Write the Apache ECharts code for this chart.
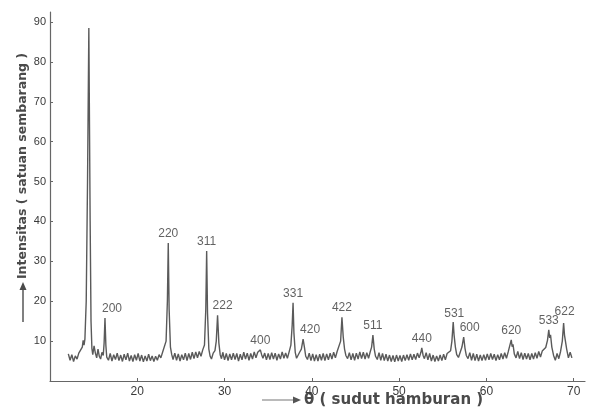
<!DOCTYPE html>
<html>
<head>
<meta charset="utf-8">
<script src="https://cdn.jsdelivr.net/npm/echarts@6/dist/echarts.min.js"></script>
<style>
html,body{margin:0;padding:0;background:#fff;}
#chart{width:589px;height:410px;}
</style>
</head>
<body>
<div id="chart"></div>
<script>
// scattering angle θ (degrees)
const theta = [
12.1,12.3,12.5,12.7,12.9,13.1,13.3,13.5,13.7,13.8,13.9,14.0,14.15,14.3,14.45,14.6,14.7,14.8,14.9,15.05,
15.2,15.35,15.5,15.65,15.8,15.95,16.1,16.2,16.3,16.4,16.5,16.7,16.9,17.1,17.3,17.5,17.7,17.9,18.1,18.3,
18.5,18.7,18.9,19.1,19.3,19.5,19.7,19.9,20.1,20.3,20.5,20.7,20.9,21.1,21.3,21.5,21.7,21.9,22.1,22.3,
22.5,22.7,22.9,23.1,23.3,23.45,23.55,23.65,23.8,23.95,24.1,24.3,24.5,24.7,24.9,25.1,25.3,25.5,25.7,25.9,
26.1,26.3,26.5,26.7,26.9,27.1,27.3,27.5,27.7,27.85,27.95,28.05,28.2,28.35,28.5,28.7,28.9,29.05,29.2,29.35,
29.5,29.65,29.8,30.0,30.2,30.4,30.6,30.8,31.0,31.2,31.4,31.6,31.8,32.0,32.2,32.4,32.6,32.8,33.0,33.2,
33.4,33.6,33.8,34.0,34.1,34.25,34.4,34.6,34.8,35.0,35.2,35.4,35.6,35.8,36.0,36.2,36.4,36.6,36.8,37.0,
37.2,37.4,37.6,37.75,37.85,37.95,38.1,38.25,38.4,38.6,38.8,39.0,39.15,39.3,39.5,39.7,39.9,40.1,40.3,40.5,
40.7,40.9,41.1,41.3,41.5,41.7,41.9,42.1,42.3,42.5,42.7,42.9,43.1,43.3,43.45,43.6,43.75,43.9,44.1,44.3,
44.5,44.7,44.9,45.1,45.3,45.5,45.7,45.9,46.1,46.3,46.5,46.7,46.85,47.0,47.15,47.3,47.5,47.7,47.9,48.1,
48.3,48.5,48.7,48.9,49.1,49.3,49.5,49.7,49.9,50.1,50.3,50.5,50.7,50.9,51.1,51.3,51.5,51.7,51.9,52.1,
52.3,52.5,52.6,52.75,52.9,53.1,53.3,53.5,53.7,53.9,54.1,54.3,54.5,54.7,54.9,55.1,55.3,55.5,55.7,55.9,
56.05,56.2,56.3,56.45,56.6,56.8,57.0,57.2,57.4,57.55,57.7,57.9,58.1,58.3,58.5,58.7,58.9,59.1,59.3,59.5,
59.7,59.9,60.1,60.3,60.5,60.7,60.9,61.1,61.3,61.5,61.7,61.9,62.1,62.3,62.5,62.7,62.85,62.95,63.05,63.2,
63.4,63.6,63.8,64.0,64.2,64.4,64.6,64.8,65.0,65.2,65.4,65.6,65.8,66.0,66.2,66.4,66.6,66.8,67.0,67.15,
67.25,67.35,67.5,67.7,67.9,68.1,68.3,68.5,68.7,68.85,68.95,69.05,69.2,69.4,69.6,69.8
];
// intensity (arbitrary units)
const intensity = [
6.8,5.2,6.6,4.9,6.3,5.5,7.0,7.4,8.5,10.2,9.0,10.5,20,50,88.5,40,15,8.2,6.6,8.8,
7.0,5.8,8.0,6.2,5.5,7.2,6.4,9.5,15.8,9.0,6.0,5.2,6.9,5.0,6.6,5.4,7.0,5.1,6.5,4.9,
6.7,5.3,7.0,5.0,6.4,4.9,6.6,5.2,6.9,5.0,6.5,4.8,6.3,5.0,6.7,5.1,6.3,4.9,6.2,5.2,
6.6,5.8,7.2,7.6,10,20,34.6,18,8.5,6.6,5.4,7.0,5.2,6.8,5.0,6.6,5.3,7.0,5.1,6.9,
5.4,7.2,5.6,7.3,5.8,7.4,6.2,7.8,9.0,18,32.6,17,8.0,6.2,5.5,7.0,7.6,10,16.5,9.5,
6.6,5.6,7.2,5.3,6.9,5.1,6.8,5.3,7.0,5.4,6.9,5.0,6.7,5.3,7.2,5.5,7.0,5.2,6.9,5.5,
7.3,5.8,7.2,7.5,7.8,6.6,5.7,7.0,5.3,6.9,5.4,7.1,5.5,7.0,5.2,6.8,5.5,7.3,5.7,7.0,
5.7,7.3,9.0,14,19.6,12,7.2,5.7,5.6,7.2,8.0,10.5,8.5,6.2,5.4,7.0,5.1,6.8,5.0,6.6,
5.0,6.7,5.2,6.9,5.1,6.8,5.3,7.0,5.5,7.2,5.8,7.4,7.8,10,16,11,8.0,6.4,5.6,7.1,
5.3,6.9,5.2,7.0,5.5,7.3,5.6,7.2,5.5,7.1,5.7,7.4,8.5,11.5,8.0,6.2,5.4,7.1,5.2,6.9,
5.1,6.7,5.0,6.5,4.9,6.4,4.8,6.5,5.0,6.4,4.9,6.5,5.1,6.6,5.2,6.8,5.3,6.7,5.4,7.0,
5.8,7.2,8.3,6.4,5.6,7.1,5.3,6.9,5.0,6.5,4.9,6.3,5.0,6.5,5.1,6.7,5.3,6.9,6.4,7.6,
10,14.8,11.5,8.5,6.6,5.9,7.2,8.5,11,8.2,6.4,5.6,7.1,5.2,6.9,5.1,6.7,5.0,6.5,5.1,
6.6,5.2,6.8,5.3,6.9,5.4,6.7,5.1,6.6,5.3,6.9,5.5,7.1,5.7,7.3,7.5,10.3,8.6,9.2,6.8,
5.8,7.4,5.6,7.1,5.4,7.0,5.5,6.9,5.3,6.9,5.5,7.1,5.7,7.4,6.0,7.5,7.4,8.4,10.2,12.8,
10.8,11.6,8.5,6.4,5.2,6.9,5.6,7.4,10.0,14.5,11.5,12.0,8.0,5.8,7.2,5.8
];
// Miller index labels of the reflections
const peakHkl = ['200','220','311','222','400','331','420','422','511','440','531','600','620','533','622'];
const peakTheta = [16.3,23.55,27.95,29.2,34.1,37.85,39.0,43.45,47.0,52.6,56.2,57.4,62.85,67.15,68.85];
const peakTop   = [15.8,34.6,32.6,16.5,7.8,19.6,10.5,16,11.5,8.3,14.8,11,10.3,12.8,14.5];
const xTicks = [20,30,40,50,60,70];
const yTicks = [10,20,30,40,50,60,70,80,90];

const labelShift = {'200':[7,0],'222':[5,0],'420':[7,0],'600':[6,0],'622':[1,-2],'531':[1,1]};

const chart = echarts.init(document.getElementById('chart'), null, {renderer:'canvas'});
const lineData = theta.map((t,i)=>[t,intensity[i]]);
const labelData = peakHkl.map((h,i)=>({
  value:[peakTheta[i],peakTop[i]], name:h,
  label:{offset: labelShift[h] || [0,0]}
}));
const txt = '#3a3a3a';
chart.setOption({
  animation:false,
  backgroundColor:'#ffffff',
  grid:{left:50,right:4,top:12,bottom:29,containLabel:false},
  xAxis:{
    type:'value', min:10, max:71.3,
    axisLine:{show:true,lineStyle:{color:'#666',width:1.2}},
    axisTick:{show:true,inside:true,length:3,customValues:xTicks,lineStyle:{color:'#666'}},
    axisLabel:{customValues:xTicks,color:txt,fontSize:12,fontFamily:'Liberation Sans',margin:5},
    splitLine:{show:false}
  },
  yAxis:{
    type:'value', min:0, max:92.5,
    axisLine:{show:true,lineStyle:{color:'#666',width:1.2}},
    axisTick:{show:true,inside:true,length:3,customValues:yTicks,lineStyle:{color:'#666'}},
    axisLabel:{customValues:yTicks,color:txt,fontSize:11,fontFamily:'Liberation Sans',margin:4},
    splitLine:{show:false}
  },
  series:[
    {type:'line',data:lineData,showSymbol:false,symbol:'none',
     lineStyle:{color:'#5a5a5a',width:1.4},z:3},
    {type:'scatter',data:labelData,symbolSize:0,
     label:{show:true,position:'top',distance:3,formatter:p=>p.name,color:txt,fontSize:12,fontFamily:'Liberation Sans'},
     z:4}
  ],
  graphic:[
    {type:'text',x:23,y:166,rotation:Math.PI/2,originX:0,originY:0,
     style:{text:'Intensitas ( satuan sembarang )',fill:'#4a4a4a',font:'bold 12.5px "DejaVu Sans"',align:'center',verticalAlign:'middle'}},
    {type:'line',shape:{x1:23,y1:322,x2:23,y2:286},style:{stroke:'#4a4a4a',lineWidth:1.4}},
    {type:'polygon',shape:{points:[[19.5,290],[26.5,290],[23,282]]},style:{fill:'#4a4a4a'}},
    {type:'line',shape:{x1:262,y1:400,x2:296,y2:400},style:{stroke:'#777',lineWidth:1.2}},
    {type:'polygon',shape:{points:[[293,396.5],[293,403.5],[301,400]]},style:{fill:'#555'}},
    {type:'text',x:304,y:400,
     style:{text:'θ ( sudut hamburan )',fill:'#4a4a4a',font:'bold 15px "DejaVu Sans"',align:'left',verticalAlign:'middle'}}
  ]
});
</script>
</body>
</html>
